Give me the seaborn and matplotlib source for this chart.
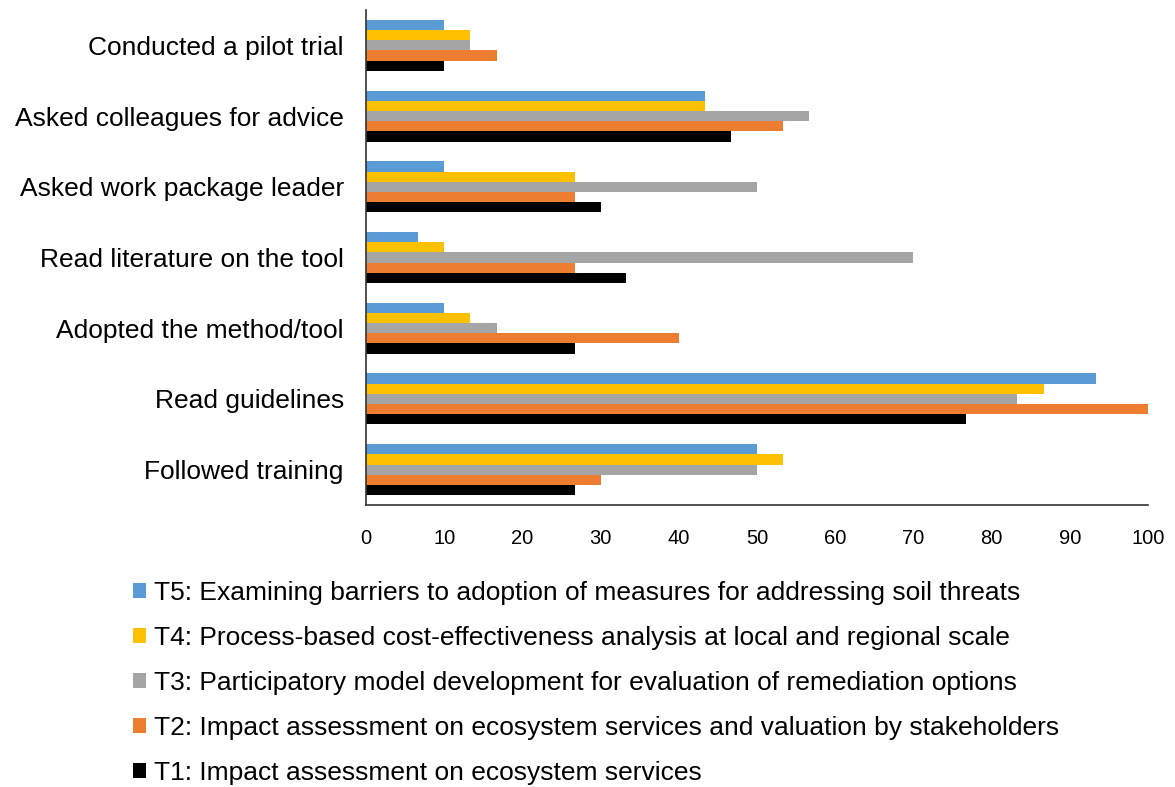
import matplotlib

matplotlib.use("Agg")
import matplotlib.pyplot as plt
import pandas as pd
import seaborn as sns
from matplotlib.patches import Patch

categories = [
    "Conducted a pilot trial",
    "Asked colleagues for advice",
    "Asked work package leader",
    "Read literature on the tool",
    "Adopted the method/tool",
    "Read guidelines",
    "Followed training",
]
series_names = [
    "T5: Examining barriers to adoption of measures for addressing soil threats",
    "T4: Process-based cost-effectiveness analysis at local and regional scale",
    "T3: Participatory model development for evaluation of remediation options",
    "T2: Impact assessment on ecosystem services and valuation by stakeholders",
    "T1: Impact assessment on ecosystem services",
]
t5 = [10.0, 43.3, 10.0, 6.7, 10.0, 93.3, 50.0]
t4 = [13.3, 43.3, 26.7, 10.0, 13.3, 86.7, 53.3]
t3 = [13.3, 56.7, 50.0, 70.0, 16.7, 83.3, 50.0]
t2 = [16.7, 53.3, 26.7, 26.7, 40.0, 100.0, 30.0]
t1 = [10.0, 46.7, 30.0, 33.3, 26.7, 76.7, 26.7]
colors = ["#5b9bd5", "#ffc000", "#a5a5a5", "#ed7d31", "#000000"]

rows = []
for name, vals in zip(series_names, [t5, t4, t3, t2, t1]):
    for cat, v in zip(categories, vals):
        rows.append({"category": cat, "series": name, "value": v})
df = pd.DataFrame(rows)

sns.set_style("white")
plt.rcParams["font.family"] = ["Liberation Sans", "DejaVu Sans"]
plt.rcParams["text.color"] = "black"
plt.rcParams["xtick.color"] = "black"
plt.rcParams["ytick.color"] = "black"

fig = plt.figure(figsize=(11.75, 7.87), dpi=100)
ax = fig.add_axes([366 / 1175, 1 - 505 / 787, (1148 - 366) / 1175, (505 - 10) / 787])
sns.barplot(data=df, y="category", x="value", hue="series", order=categories,
            hue_order=series_names, palette=colors, orient="h", width=0.72,
            ax=ax, legend=False, saturation=1, edgecolor="none")

ax.set_xlim(0, 100)
ax.set_ylim(6.5, -0.5)
ax.set_xticks(range(0, 101, 10))
ax.set_xlabel("")
ax.set_ylabel("")
ax.tick_params(axis="y", labelsize=19, length=0, pad=16)
ax.tick_params(axis="x", labelsize=14.5, length=0, pad=17)
for s in ["top", "right"]:
    ax.spines[s].set_visible(False)
for s in ["left", "bottom"]:
    ax.spines[s].set_color("#333333")
    ax.spines[s].set_linewidth(1.2)

handles = [Patch(facecolor=c, edgecolor="none") for c in colors]
fig.legend(handles, series_names, loc="upper left", bbox_to_anchor=(122 / 1175, 1 - 570 / 787),
           frameon=False, fontsize=19, handlelength=0.5, handleheight=0.5,
           handletextpad=0.3, labelspacing=0.8, borderaxespad=0)

fig.savefig("out.png", dpi=100)
